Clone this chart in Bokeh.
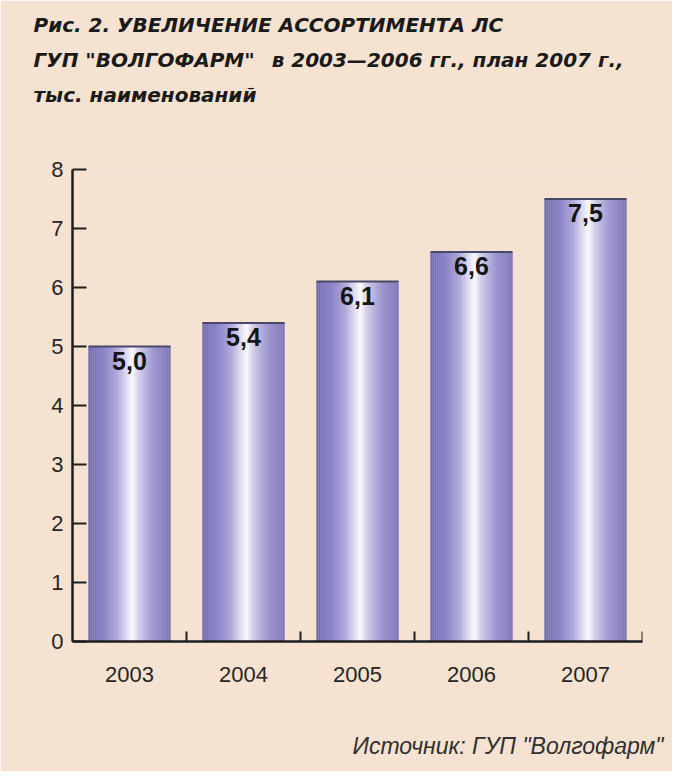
from bokeh.plotting import figure
from bokeh.models import FactorRange, Range1d, Title, FixedTicker, ColumnDataSource
from bokeh.core.properties import value
from bokeh.embed import file_html
from bokeh.resources import INLINE

# ---- data ----
years = ["2003", "2004", "2005", "2006", "2007"]
values = [5.0, 5.4, 6.1, 6.6, 7.5]
value_labels = ["5,0", "5,4", "6,1", "6,6", "7,5"]
y_ticks = [0, 1, 2, 3, 4, 5, 6, 7, 8]
title_lines = [
    "Рис. 2. УВЕЛИЧЕНИЕ АССОРТИМЕНТА ЛС",
    'ГУП "ВОЛГОФАРМ"\u2002 в 2003\u20142006 гг., план 2007 г.,',
    "тыс. наименований",
]
source_text = 'Источник: ГУП "Волгофарм"'

# ---- style ----
BG = "#f5e2d0"
INK = "#1e1e1e"
FONT = "Liberation Sans"
TFONT = "DejaVu Sans"
BAR_W = 0.72
N_SLICES = 40
stops = [
    (0.00, (0x74, 0x6b, 0xb6)),
    (0.18, (0x8a, 0x83, 0xc6)),
    (0.36, (0xb2, 0xac, 0xdc)),
    (0.48, (0xe4, 0xe1, 0xf5)),
    (0.54, (0xfc, 0xfb, 0xff)),
    (0.61, (0xd4, 0xd0, 0xec)),
    (0.80, (0x9d, 0x96, 0xcf)),
    (1.00, (0x7c, 0x74, 0xba)),
]


def grad(t):
    for (t0, c0), (t1, c1) in zip(stops[:-1], stops[1:]):
        if t0 <= t <= t1:
            f = (t - t0) / (t1 - t0) if t1 > t0 else 0
            c = [round(a + (b - a) * f) for a, b in zip(c0, c1)]
            return "#%02x%02x%02x" % tuple(c)
    return "#%02x%02x%02x" % stops[-1][1]


p = figure(
    width=672, height=771,
    x_range=FactorRange(*years, range_padding=0),
    y_range=Range1d(0, 8),
    output_backend="svg", toolbar_location=None,
    min_border_left=72, min_border_right=30,
    min_border_top=169, min_border_bottom=130,
)
p.background_fill_color = BG
p.border_fill_color = BG
p.outline_line_color = None
p.xgrid.visible = False
p.ygrid.visible = False

# gradient bars built from slices of each category
sw = BAR_W / N_SLICES
xs, tops, cols = [], [], []
for yr, v in zip(years, values):
    for k in range(N_SLICES):
        t = (k + 0.5) / N_SLICES
        xs.append((yr, -BAR_W / 2 + (k + 0.5) * sw))
        tops.append(v)
        cols.append(grad(t))
src = ColumnDataSource(dict(x=xs, top=tops, color=cols))
p.vbar(x="x", top="top", bottom=0, width=sw * 1.15, fill_color="color",
       line_color=None, source=src)

# dark top edge of each bar
p.segment(x0=[(y, -BAR_W / 2) for y in years], x1=[(y, BAR_W / 2) for y in years],
          y0=values, y1=values, line_color="#4a4868", line_width=2)

# value labels
p.text(x=years, y=values, text=value_labels, text_align="center",
       text_baseline="top", y_offset=5, text_font=value(FONT),
       text_font_style="bold", text_font_size="25px", text_color="#151515")

# separator ticks on the x axis
p.segment(x0=[(y, 0.5) for y in years], x1=[(y, 0.5) for y in years],
          y0=[0] * len(years), y1=[0.17] * len(years), line_color=INK, line_width=2)

# axes
p.xaxis.major_tick_line_color = None
p.xaxis.minor_tick_line_color = None
p.xaxis.axis_line_width = 2.5
p.xaxis.axis_line_color = INK
p.xaxis.major_label_standoff = 19
p.xaxis.major_label_text_font = FONT
p.xaxis.major_label_text_font_size = "22px"
p.xaxis.major_label_text_color = "#262626"

p.yaxis.ticker = FixedTicker(ticks=y_ticks)
p.yaxis.major_tick_in = 14
p.yaxis.major_tick_out = 0
p.yaxis.major_tick_line_width = 2
p.yaxis.major_tick_line_color = INK
p.yaxis.minor_tick_line_color = None
p.yaxis.axis_line_width = 2.5
p.yaxis.axis_line_color = INK
p.yaxis.major_label_standoff = 9
p.yaxis.major_label_text_font = FONT
p.yaxis.major_label_text_font_size = "22px"
p.yaxis.major_label_text_color = "#262626"

# titles (inner-most first): spacer, then lines 3, 2, 1
p.add_layout(Title(text=" ", text_font=TFONT, text_font_size="20px", standoff=32), "above")
for txt in [title_lines[2], title_lines[1], title_lines[0]]:
    p.add_layout(Title(text=txt, text_font=TFONT, text_font_size="20px",
                       text_font_style="bold italic", text_color="#1a1a1a",
                       align="left", offset=-39, standoff=9), "above")

# source line below (spacer, then text)
p.add_layout(Title(text=" ", text_font=FONT, text_font_size="20px", standoff=22), "below")
p.add_layout(Title(text=source_text, text_font=FONT, text_font_size="23px",
                   text_font_style="italic", text_color="#303030",
                   align="right", offset=-21, standoff=0), "below")

open("out.html", "w").write(file_html(p, INLINE))
